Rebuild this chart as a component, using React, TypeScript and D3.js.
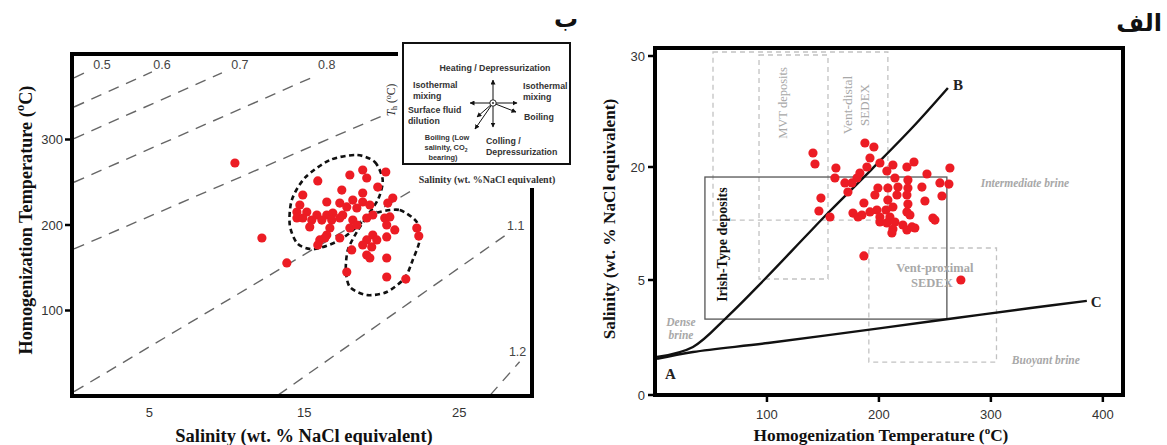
import React from "react";
import * as d3 from "d3";

// ---------- Left panel data (ب) : Salinity vs Th ----------
const leftXTicks = [5, 15, 25];
const leftYTicks = [100, 200, 300];

// fluid inclusion points [salinity wt% NaCl, Th °C]
const leftPoints: [number, number][] = [
  [10.52, 272.5], [12.26, 184.8], [13.87, 155.6], [18.77, 264.3], [19.03, 255.0],
  [17.94, 258.5], [20.26, 262.0], [15.87, 251.5], [17.42, 240.9], [18.77, 237.4],
  [19.74, 244.4], [20.71, 231.6], [20.39, 225.7], [14.9, 235.1], [14.71, 223.4],
  [16.45, 226.9], [17.29, 225.7], [18.13, 229.2], [18.77, 226.9], [19.23, 223.4],
  [17.74, 221.1], [18.39, 219.9], [14.52, 215.2], [15.16, 215.2], [15.81, 211.7],
  [16.45, 211.7], [16.84, 214.0], [17.48, 211.7], [14.52, 208.2], [14.9, 208.2],
  [15.48, 205.8], [16.13, 205.8], [16.77, 205.8], [17.29, 208.2], [18.13, 205.8],
  [19.03, 208.2], [19.42, 211.7], [20.19, 208.2], [20.52, 209.4], [15.35, 197.7],
  [16.65, 196.5], [17.94, 196.5], [20.32, 200.0], [20.84, 194.2], [18.39, 200.0],
  [16.45, 188.3], [16.0, 182.5], [16.32, 184.8], [17.29, 184.8], [15.87, 176.6],
  [19.42, 188.3], [19.03, 182.5], [19.68, 182.5], [20.32, 186.0], [18.77, 176.6],
  [19.35, 174.3], [18.06, 170.8], [19.03, 164.9], [19.23, 161.4], [20.32, 161.4],
  [22.26, 196.5], [22.39, 187.1], [17.74, 145.0], [20.32, 139.2], [21.55, 136.8],
];

// iso-density (dashed) lines [salinity, Th]
const isoLabels = ["0.5", "0.6", "0.7", "0.8", "", "", "1.1", "1.2"];
const isoLines: [number, number][][] = [
  [[0.13, 372], [1.16, 381]],
  [[0.13, 338], [5.16, 379]],
  [[0.13, 301], [9.68, 378]],
  [[0.13, 250], [15.8, 375]],
  [[0.13, 172], [20.2, 329]],
  [[0.13, 5], [22.0, 241]],
  [[13.3, 1], [28.3, 192]],
  [[27.0, 1], [28.9, 40]],
];
const isoLabelPos: [number, number][] = [
  [1.94, 383], [5.81, 383], [10.84, 383], [16.45, 383], [0, 0], [0, 0], [28.65, 194], [28.77, 47],
];

// dashed envelopes around the two populations
const envelope1: [number, number][] = [
  [18.39, 281.9], [19.55, 273.7], [20.06, 252.6], [19.74, 229.2], [18.71, 203.5],
  [17.29, 182.5], [15.68, 171.9], [14.58, 177.8], [14.06, 200.0], [14.19, 229.2],
  [15.03, 255.0], [16.65, 276.0],
];
const envelope2: [number, number][] = [
  [19.87, 215.2], [21.16, 217.5], [22.26, 203.5], [22.45, 182.5], [22.0, 159.1],
  [21.48, 138.0], [20.32, 121.6], [19.03, 118.1], [17.94, 127.5], [17.68, 147.4],
  [17.81, 170.8], [18.39, 191.8], [19.03, 208.2],
];

// ---------- Right panel data (الف) : Th vs Salinity ----------
const rightXTicks = [100, 200, 300, 400];
const rightYTicks = [0, 5, 20, 30];

// [Th °C, salinity]
const rightPoints: [number, number][] = [
  [141.1, 21.26], [142.9, 20.27], [187.5, 22.16], [195.5, 21.8], [192.0, 20.81],
  [200.9, 20.36], [189.3, 20.0], [161.6, 19.87], [160.7, 18.54], [183.0, 19.2],
  [180.4, 18.54], [175.9, 17.88], [169.6, 17.88], [172.3, 16.68], [212.5, 20.18],
  [207.1, 19.47], [225.0, 20.0], [231.3, 20.45], [263.4, 19.87], [214.3, 18.54],
  [225.9, 18.27], [242.9, 19.07], [254.5, 17.88], [262.5, 17.74], [238.4, 17.34],
  [199.1, 17.21], [208.0, 17.21], [217.0, 17.34], [225.9, 17.21], [196.4, 16.28],
  [216.1, 16.28], [225.0, 16.28], [256.3, 16.15], [241.1, 15.49], [148.2, 15.88],
  [208.0, 15.62], [186.6, 15.22], [212.5, 14.69], [225.9, 15.09], [198.2, 14.29],
  [206.3, 14.29], [225.0, 14.03], [146.4, 14.16], [176.8, 13.89], [184.8, 13.63],
  [192.0, 14.03], [156.3, 13.36], [181.3, 13.36], [200.9, 13.36], [209.8, 13.36],
  [227.7, 13.63], [248.2, 13.23], [200.9, 12.7], [207.1, 12.57], [214.3, 12.7],
  [221.4, 12.3], [229.5, 12.04], [212.5, 11.77], [225.0, 11.64], [232.1, 11.9],
  [211.6, 11.24], [250.0, 12.96], [186.6, 8.19], [273.2, 5.0],
];

const curveB: [number, number][] = [
  [1.8, 1.65], [33.9, 2.09], [64.3, 3.39], [97.3, 5.0], [134.8, 10.84],
  [154.5, 13.89], [193.75, 19.73], [229.5, 23.51], [261.6, 27.12],
];
const curveC: [number, number][] = [
  [1.8, 1.57], [33.9, 1.87], [100.9, 2.26], [201.8, 2.91], [268.8, 3.35],
  [335.7, 3.78], [385.7, 4.09],
];

// fields [Th0, Th1, sal0, sal1]
const irishBox = [44.6, 260.7, 3.3, 18.67];
const dashedBoxes = [
  [51.8, 208, 12.96, 30.36],
  [92.9, 154.5, 5.13, 30.09],
  [191, 305, 1.43, 9.25],
];

const SERIF = "'Liberation Serif', 'Times New Roman', serif";
const SANS = "'Liberation Sans', Arial, sans-serif";
const RED = "#ec1c24";
const FIELD_GRAY = "#a8a8a8";

export default function App() {
  // left scales
  const xL = d3.scaleLinear().domain([0, 29.7]).range([72, 532]);
  const yL = d3.scaleLinear().domain([0, 400]).range([396, 54]);
  // right scales (piecewise axis as in the original diagram)
  const xR = d3.scaleLinear().domain([0, 418]).range([655, 1123]);
  const yR = d3.scaleLinear().domain([0, 5, 20, 30]).range([395, 280, 167, 56]);

  const lineL = d3.line<[number, number]>().x((d) => xL(d[0])).y((d) => yL(d[1]));
  const envL = d3
    .line<[number, number]>()
    .x((d) => xL(d[0]))
    .y((d) => yL(d[1]))
    .curve(d3.curveCardinalClosed.tension(0.2));
  const lineR = d3
    .line<[number, number]>()
    .x((d) => xR(d[0]))
    .y((d) => yR(d[1]))
    .curve(d3.curveCatmullRom.alpha(0.5));

  const cx = 493,
    cy = 103;
  const arrows: [number, number][] = [
    [493, 80], [493, 127], [470, 103], [517, 103], [516, 112], [477, 117], [475, 129],
  ];

  return (
    <svg
      width={1167}
      height={445}
      style={{ position: "absolute", left: 0, top: 0, background: "#fff" }}
    >
      <defs>
        <marker id="ah" viewBox="0 0 10 10" refX="9" refY="5" markerWidth="5" markerHeight="5" orient="auto">
          <path d="M0,0 L10,5 L0,10 z" fill="#111" />
        </marker>
      </defs>

      {/* ================= LEFT PANEL ================= */}
      <g>
        {isoLines.map((l, i) => (
          <path key={"iso" + i} d={lineL(l) || ""} fill="none" stroke="#666" strokeWidth={1.4} strokeDasharray="11,8" />
        ))}
        {isoLabels.map((t, i) =>
          t ? (
            <text key={"isol" + i} x={xL(isoLabelPos[i][0])} y={yL(isoLabelPos[i][1])} fontFamily={SANS} fontSize={12.5} fill="#444" textAnchor="middle">
              {t}
            </text>
          ) : null
        )}
        <path d={envL(envelope1) || ""} fill="none" stroke="#111" strokeWidth={2.6} strokeDasharray="5,3.5" />
        <path d={envL(envelope2) || ""} fill="none" stroke="#111" strokeWidth={2.6} strokeDasharray="5,3.5" />
        {leftPoints.map((p, i) => (
          <circle key={"lp" + i} cx={xL(p[0])} cy={yL(p[1])} r={4.6} fill={RED} />
        ))}
        {/* frame */}
        <rect x={72} y={54} width={460} height={342} fill="none" stroke="#000" strokeWidth={4} />
        {leftYTicks.map((t) => (
          <g key={"ly" + t}>
            <line x1={65} x2={72} y1={yL(t)} y2={yL(t)} stroke="#000" strokeWidth={2.5} />
            <text x={63} y={yL(t) + 4.5} fontFamily={SANS} fontSize={13} fill="#333" textAnchor="end">
              {t}
            </text>
          </g>
        ))}
        {leftXTicks.map((t) => (
          <text key={"lx" + t} x={xL(t)} y={417} fontFamily={SANS} fontSize={13} fill="#333" textAnchor="middle">
            {t}
          </text>
        ))}
        <text x={304} y={442} fontFamily={SERIF} fontWeight="bold" fontSize={18.5} textAnchor="middle" fill="#111">
          Salinity (wt. % NaCl equivalent)
        </text>
        <text transform="translate(32,220) rotate(-90)" fontFamily={SERIF} fontWeight="bold" fontSize={18.2} textAnchor="middle" fill="#111">
          Homogenization Temperature (<tspan dy={-8} fontSize={13}>o</tspan>
          <tspan dy={8}>C)</tspan>
        </text>

        {/* inset */}
        <rect x={398} y={38} width={180} height={150} fill="#fff" />
        <rect x={403} y={43} width={167} height={121} fill="#fff" stroke="#111" strokeWidth={2} />
        <text transform="translate(395,100) rotate(-90)" fontFamily={SERIF} fontSize={11.5} fill="#222" textAnchor="middle">
          <tspan fontStyle="italic">T</tspan>
          <tspan fontSize={8} dy={2}>h</tspan>
          <tspan dy={-2}> (</tspan>
          <tspan fontSize={8} dy={-4}>o</tspan>
          <tspan dy={4}>C)</tspan>
        </text>
        <text x={487} y={183} fontFamily={SERIF} fontWeight="bold" fontSize={10} fill="#333" textAnchor="middle">
          Salinity (wt. %NaCl equivalent)
        </text>
        <g fontFamily={SANS} fontWeight="bold" fontSize={8.8} fill="#333">
          <text x={495} y={71} textAnchor="middle">Heating / Depressurization</text>
          <text x={413} y={88}>Isothermal</text>
          <text x={413} y={99}>mixing</text>
          <text x={523} y={89}>Isothermal</text>
          <text x={523} y={100}>mixing</text>
          <text x={408} y={113}>Surface fluid</text>
          <text x={408} y={124}>dilution</text>
          <text x={524} y={120}>Boiling</text>
          <text x={486} y={144}>Colling /</text>
          <text x={486} y={155}>Depressurization</text>
          <g fontSize={7.4} textAnchor="middle">
            <text x={447} y={140}>Boiling (Low</text>
            <text x={446} y={150}>
              salinity, CO<tspan fontSize={5} dy={2}>2</tspan>
            </text>
            <text x={443} y={160}>bearing)</text>
          </g>
        </g>
        {arrows.map((a, i) => (
          <line key={"ar" + i} x1={cx} y1={cy} x2={a[0]} y2={a[1]} stroke="#111" strokeWidth={1} markerEnd="url(#ah)" />
        ))}
        <circle cx={cx} cy={cy} r={3.2} fill="#fff" stroke="#111" strokeWidth={0.9} />
        <circle cx={cx} cy={cy} r={0.9} fill="#111" />
        <text x={578} y={27} fontFamily="'DejaVu Sans', 'Noto Sans', sans-serif" fontWeight="bold" fontSize={24} textAnchor="end" fill="#111">
          ب
        </text>
      </g>

      {/* ================= RIGHT PANEL ================= */}
      <g>
        {dashedBoxes.map((b, i) => (
          <rect
            key={"db" + i}
            x={xR(b[0])}
            y={yR(b[3])}
            width={xR(b[1]) - xR(b[0])}
            height={yR(b[2]) - yR(b[3])}
            fill="none"
            stroke="#c2c2c2"
            strokeWidth={1.3}
            strokeDasharray="5,4"
          />
        ))}
        <rect
          x={xR(irishBox[0])}
          y={yR(irishBox[3])}
          width={xR(irishBox[1]) - xR(irishBox[0])}
          height={yR(irishBox[2]) - yR(irishBox[3])}
          fill="none"
          stroke="#555"
          strokeWidth={1.3}
        />
        <g fontFamily={SERIF} fill={FIELD_GRAY} fontSize={12.5}>
          <text transform={`translate(${xR(114.3)},${yR(25.77)}) rotate(-90)`} textAnchor="middle" dominantBaseline="central">MVT deposits</text>
          <text transform={`translate(${xR(172.3)},${yR(25.59)}) rotate(-90)`} textAnchor="middle" dominantBaseline="central" fontSize={13.5}>Vent-distal</text>
          <text transform={`translate(${xR(187)},${yR(25.59)}) rotate(-90)`} textAnchor="middle" dominantBaseline="central" fontSize={13}>SEDEX</text>
          <text x={xR(250)} y={yR(6.59)} textAnchor="middle" fontWeight="bold" dominantBaseline="central">Vent-proximal</text>
          <text x={xR(247.3)} y={yR(4.87)} textAnchor="middle" fontWeight="bold" dominantBaseline="central">SEDEX</text>
          <g fontStyle="italic" fontWeight="bold" fontSize={11.5}>
            <text x={xR(330.4)} y={yR(17.88)} textAnchor="middle" dominantBaseline="central">Intermediate brine</text>
            <text x={xR(23.2)} y={yR(3.17)} textAnchor="middle" dominantBaseline="central">Dense</text>
            <text x={xR(23.2)} y={yR(2.61)} textAnchor="middle" dominantBaseline="central">brine</text>
            <text x={xR(349.1)} y={yR(1.52)} textAnchor="middle" dominantBaseline="central">Buoyant brine</text>
          </g>
        </g>
        <text
          transform={`translate(${xR(60.5)},${yR(9.7)}) rotate(-90)`}
          fontFamily={SERIF}
          fontWeight="bold"
          fontSize={14}
          fill="#111"
          textAnchor="middle"
          dominantBaseline="central"
        >
          Irish-Type deposits
        </text>
        <path d={lineR(curveB) || ""} fill="none" stroke="#111" strokeWidth={2.4} />
        <path d={lineR(curveC) || ""} fill="none" stroke="#111" strokeWidth={2.4} />
        <g fontFamily={SERIF} fontWeight="bold" fontSize={15} fill="#222">
          <text x={xR(curveB[curveB.length - 1][0]) + 5} y={yR(curveB[curveB.length - 1][1]) + 2}>B</text>
          <text x={xR(curveC[curveC.length - 1][0]) + 4} y={yR(curveC[curveC.length - 1][1]) + 6}>C</text>
          <text x={xR(curveC[0][0]) + 8} y={yR(curveC[0][1]) + 20}>A</text>
        </g>
        {rightPoints.map((p, i) => (
          <circle key={"rp" + i} cx={xR(p[0])} cy={yR(p[1])} r={4.6} fill={RED} />
        ))}
        <rect x={655} y={48} width={468} height={347} fill="none" stroke="#000" strokeWidth={4} />
        {rightYTicks.map((t) => (
          <g key={"ry" + t}>
            <line x1={648} x2={655} y1={yR(t)} y2={yR(t)} stroke="#000" strokeWidth={2.5} />
            <text x={645} y={yR(t) + 4.5} fontFamily={SANS} fontSize={13} fill="#333" textAnchor="end">
              {t}
            </text>
          </g>
        ))}
        {rightXTicks.map((t) => (
          <g key={"rx" + t}>
            <line x1={xR(t)} x2={xR(t)} y1={395} y2={402} stroke="#000" strokeWidth={2.5} />
            <text x={xR(t)} y={419} fontFamily={SANS} fontSize={13} fill="#333" textAnchor="middle">
              {t}
            </text>
          </g>
        ))}
        <text x={881} y={441} fontFamily={SERIF} fontWeight="bold" fontSize={17.3} textAnchor="middle" fill="#111">
          Homogenization Temperature (<tspan dy={-7} fontSize={11}>o</tspan>
          <tspan dy={7}>C)</tspan>
        </text>
        <text transform="translate(615,219) rotate(-90)" fontFamily={SERIF} fontWeight="bold" fontSize={17.3} textAnchor="middle" fill="#111">
          Salinity (wt. % NaCl equivalent)
        </text>
        <text x={1162} y={31} fontFamily="'DejaVu Sans', 'Noto Sans', sans-serif" fontWeight="bold" fontSize={24} textAnchor="end" fill="#111">
          الف
        </text>
      </g>
    </svg>
  );
}
